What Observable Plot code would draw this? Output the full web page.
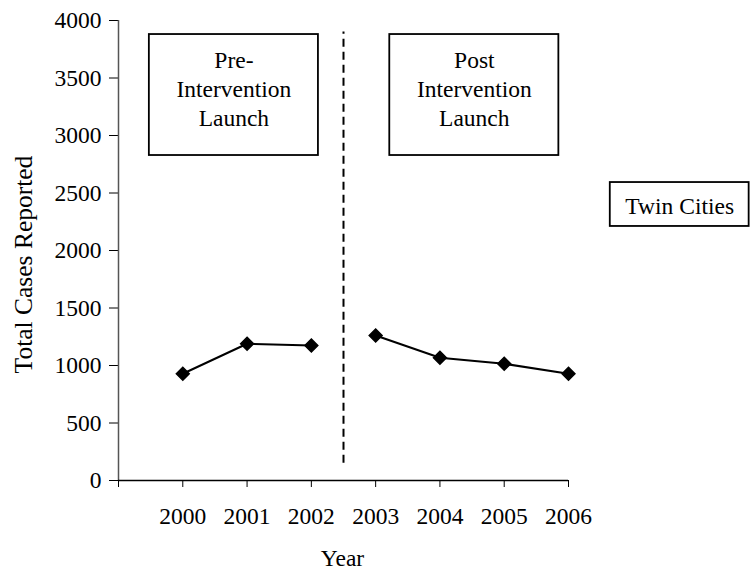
<!DOCTYPE html>
<html><head><meta charset="utf-8">
<script src="https://cdn.jsdelivr.net/npm/d3@7"></script>
<script src="https://cdn.jsdelivr.net/npm/@observablehq/plot@0.6"></script>
<style>
body{margin:0;background:#fff}
#chart svg, #chart svg text{font-family:"Liberation Serif","Times New Roman",serif !important;}
</style>
</head><body><div id="chart"></div>
<script>
// Data
const years = [2000, 2001, 2002, 2003, 2004, 2005, 2006];
const cases = [928, 1189, 1174, 1261, 1067, 1015, 928];
const phases = ["Pre", "Pre", "Pre", "Post", "Post", "Post", "Post"];
const yTicks = [0, 500, 1000, 1500, 2000, 2500, 3000, 3500, 4000];
const xTickLabels = ["2000", "2001", "2002", "2003", "2004", "2005", "2006"];
const boxLabels = ["Pre-\nIntervention\nLaunch", "Post\nIntervention\nLaunch", "Twin Cities"];
const launchYear = 2002.5;

const data = years.map((y, i) => ({year: y, cases: cases[i], phase: phases[i]}));

// Annotation boxes (in data units)
const boxes = [
  {x1: 1999.48, x2: 2002.11, y1: 2826, y2: 3878, cx: 2000.795, cy: 3417, label: boxLabels[0]},
  {x1: 2003.22, x2: 2005.85, y1: 2826, y2: 3878, cx: 2004.535, cy: 3417, label: boxLabels[1]},
  {x1: 2006.65, x2: 2008.81, y1: 2209, y2: 2591, cx: 2007.73, cy: 2400, label: boxLabels[2]}
];

const font = "Liberation Serif";
const fs = 23.5;

const chart = Plot.plot({
  width: 750,
  height: 574,
  marginLeft: 118,
  marginRight: 182,
  marginTop: 20,
  marginBottom: 94,
  style: {fontFamily: font, fontSize: fs + "px", background: "white", color: "black", overflow: "visible"},
  x: {type: "linear", domain: [1999, 2006]},
  y: {domain: [0, 4000]},
  marks: [
    Plot.axisY(yTicks, {tickSize: 9, tickPadding: 8, tickFormat: d => String(d), label: null, fontSize: fs, fontFamily: font}),
    Plot.axisX([1999, ...years], {tickSize: 7, tickPadding: 20, tickFormat: d => { const i = years.indexOf(d); return i < 0 ? "" : xTickLabels[i]; }, label: null, fontSize: fs, fontFamily: font}),
    Plot.ruleX([1999], {stroke: "#555", strokeWidth: 1.5}),
    Plot.ruleY([0], {stroke: "black", strokeWidth: 1.5}),
    Plot.ruleX([launchYear], {y1: 150, y2: 3900, stroke: "black", strokeWidth: 2, strokeDasharray: "8,5"}),
    Plot.rect(boxes, {x1: "x1", x2: "x2", y1: "y1", y2: "y2", fill: "white", stroke: "black", strokeWidth: 1.8}),
    Plot.text(boxes, {x: "cx", y: "cy", text: "label", fontSize: fs, fontFamily: font, lineHeight: 1.25, fill: "black"}),
    Plot.line(data, {x: "year", y: "cases", z: "phase", stroke: "black", strokeWidth: 2}),
    Plot.dot(data, {x: "year", y: "cases", symbol: "diamond2", r: 5.8, fill: "black", stroke: "black"}),
    Plot.text(["Total Cases Reported"], {frameAnchor: "left", textAnchor: "middle", lineAnchor: "middle", rotate: -90, dx: -95, dy: 14, fontSize: 25.5, fontFamily: font, fill: "black"}),
    Plot.text(["Year"], {frameAnchor: "bottom", lineAnchor: "middle", dx: -1, dy: 78, fontSize: fs, fontFamily: font, fill: "black"})
  ]
});
document.getElementById("chart").appendChild(chart);
</script>
</body></html>
